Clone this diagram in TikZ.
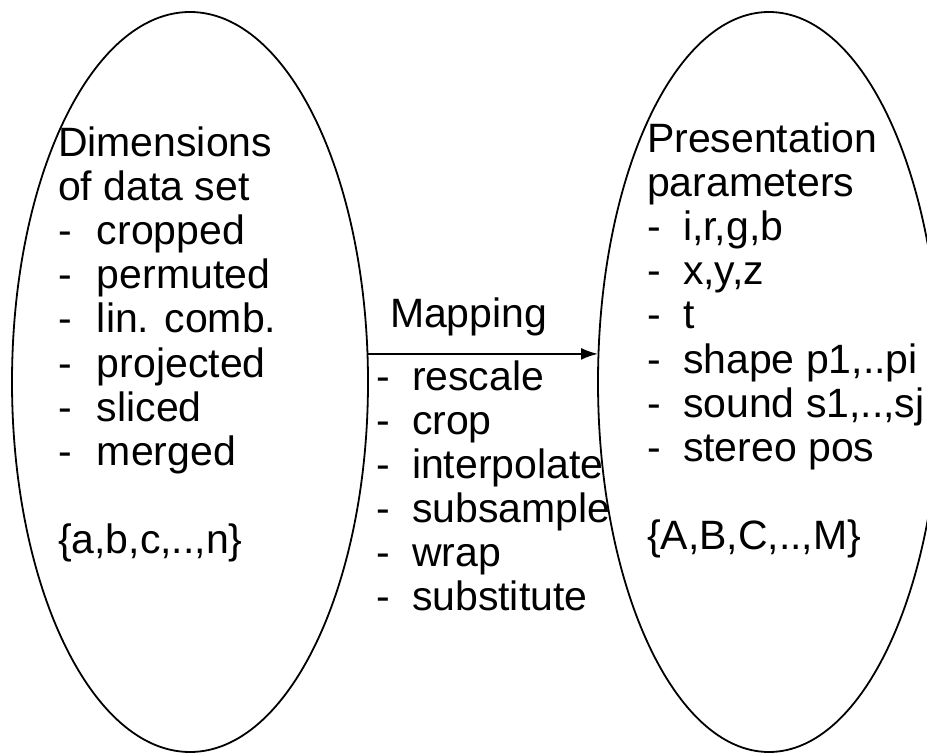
\documentclass[tikz,border=0pt]{standalone}
\usepackage{fontspec}
\setmainfont{Liberation Sans}
\usetikzlibrary{shapes.geometric,arrows.meta}
\newcommand\dashitem[2]{\makebox[#1pt][l]{-}#2}
\begin{document}
\begin{tikzpicture}[x=1pt,y=-1pt,
  oval/.style={draw, ellipse, line width=1.8pt, inner sep=0pt, outer sep=0pt},
  txt/.style={anchor=base west, inner sep=0pt, outer sep=0pt, font=\fontsize{41}{44}\selectfont},
  conn/.style={line width=2pt, -{Latex[length=17pt,width=12pt]}}]
\useasboundingbox (0,0) rectangle (927,754);
\clip (0,0) rectangle (927,754);
% ellipses
\node[oval, minimum width=356pt, minimum height=740pt] (L) at (190,382) {};
\node[oval, minimum width=342pt, minimum height=740pt] (R) at (769,382) {};
% connector
\draw[conn] (L.9.9) -- (L.9.9 -| R.west);
% left text
\node[txt] (l1) at (58,157) {Dimensions};
\node[txt] (l2) at (58,201) {of data set};
\node[txt] (l3) at (58,245) {\dashitem{39}{cropped}};
\node[txt] (l4) at (58,289) {\dashitem{39}{permuted}};
\node[txt] (l5) at (58,333) {\dashitem{39}{lin. comb.}};
\node[txt] (l6) at (58,377) {\dashitem{39}{projected}};
\node[txt] (l7) at (58,421) {\dashitem{39}{sliced}};
\node[txt] (l8) at (58,465) {\dashitem{39}{merged}};
\node[txt] (l9) at (58,553) {\{a,b,c,..,n\}};
% mapping text
\node[txt] (m0) at (390,327) {Mapping};
\node[txt] (m1) at (376,390) {\dashitem{36}{rescale}};
\node[txt] (m2) at (376,434) {\dashitem{36}{crop}};
\node[txt] (m3) at (376,478) {\dashitem{36}{interpolate}};
\node[txt] (m4) at (376,522) {\dashitem{36}{subsample}};
\node[txt] (m5) at (376,566) {\dashitem{36}{wrap}};
\node[txt] (m6) at (376,610) {\dashitem{36}{substitute}};
% right text
\node[txt] (r1) at (647,153) {Presentation};
\node[txt] (r2) at (647,197) {parameters};
\node[txt] (r3) at (647,241) {\dashitem{36}{i,r,g,b}};
\node[txt] (r4) at (647,285) {\dashitem{36}{x,y,z}};
\node[txt] (r5) at (647,329) {\dashitem{36}{t}};
\node[txt] (r6) at (647,373) {\dashitem{36}{shape p1,..pi}};
\node[txt] (r7) at (647,417) {\dashitem{36}{sound s1,..,sj}};
\node[txt] (r8) at (647,461) {\dashitem{36}{stereo pos}};
\node[txt] (r9) at (647,549) {\{A,B,C,..,M\}};
\end{tikzpicture}
\end{document}
